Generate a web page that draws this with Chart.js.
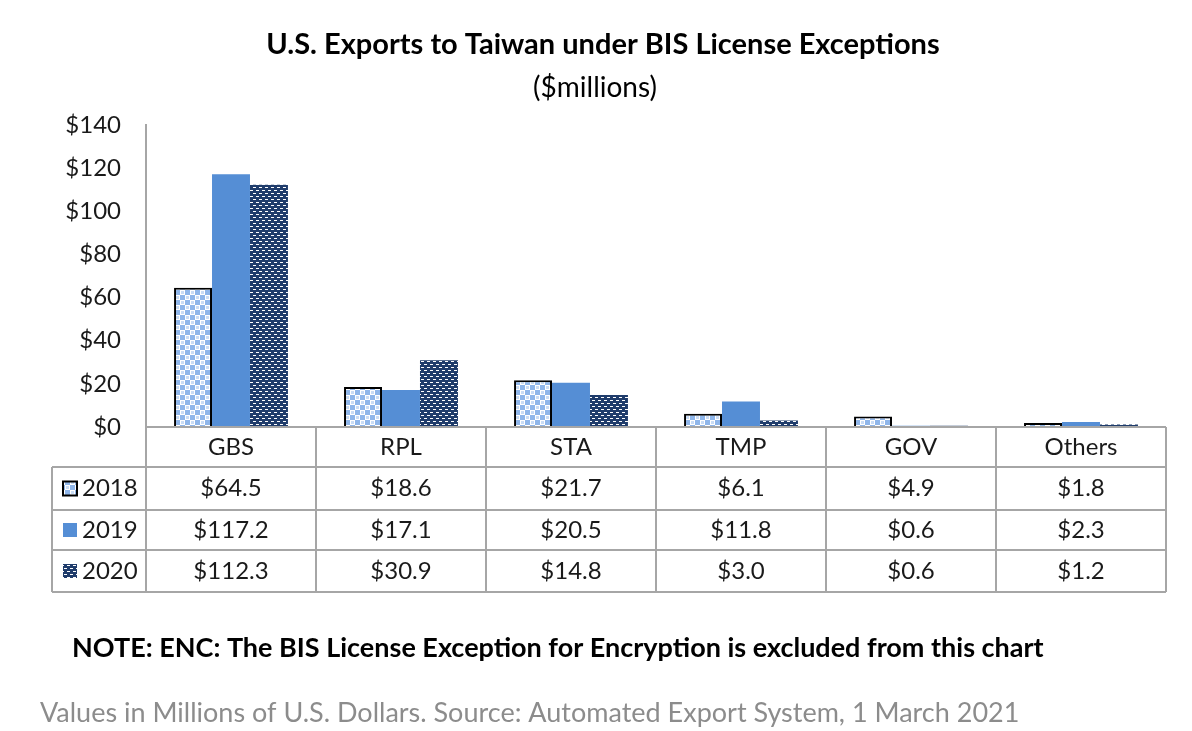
<!DOCTYPE html>
<html>
<head>
<meta charset="utf-8">
<script src="https://cdn.jsdelivr.net/npm/chart.js@4"></script>
<style>
  body { margin: 0; background: #fff; }
</style>
</head>
<body>
<canvas id="bis_chart" width="1192" height="731"></canvas>
<script>

var categories = ["GBS", "RPL", "STA", "TMP", "GOV", "Others"];
var years = ["2018", "2019", "2020"];
var values_2018 = [64.5, 18.6, 21.7, 6.1, 4.9, 1.8];
var values_2019 = [117.2, 17.1, 20.5, 11.8, 0.6, 2.3];
var values_2020 = [112.3, 30.9, 14.8, 3.0, 0.6, 1.2];
var y_ticks = [0, 20, 40, 60, 80, 100, 120, 140];

var FONT = "Lato, 'Open Sans', sans-serif";
var GRID = "#a6a6a6";

// fill patterns like the excel ones
function makePattern(w, h, draw) {
  var c = document.createElement("canvas");
  c.width = w; c.height = h;
  var g = c.getContext("2d");
  draw(g);
  return document.getElementById("bis_chart").getContext("2d").createPattern(c, "repeat");
}

var check_fill = makePattern(10, 10, function (g) {
  g.fillStyle = "#ffffff"; g.fillRect(0, 0, 10, 10);
  g.fillStyle = "#8fb6ea";
  g.fillRect(5, 0, 5, 5);
  g.fillRect(0, 5, 5, 5);
  g.fillStyle = "#c9dcf5";
  g.fillRect(1, 1, 3, 3);
  g.fillRect(6, 6, 3, 3);
});

var solid_fill = "#558ed5";

var dash_fill = makePattern(6, 6, function (g) {
  g.fillStyle = "#1f3c6b"; g.fillRect(0, 0, 6, 6);
  g.fillStyle = "#ffffff";
  g.fillRect(1, 1, 3, 1);
  g.fillRect(4, 4, 2, 1);
  g.fillRect(0, 4, 1, 1);
});

var fills = [check_fill, solid_fill, dash_fill];
var table_rows = [values_2018, values_2019, values_2020];

// rows of the data table under the plot
var row_lines = [427, 467, 510, 550, 592];
var key_left = 52;

var tablePlugin = {
  id: "tablePlugin",
  afterDraw: function (chart) {
    var ctx = chart.ctx;
    var xs = chart.scales.x;
    var area = chart.chartArea;
    var half = (area.right - area.left) / categories.length / 2;

    ctx.save();

    // title + subtitle
    ctx.fillStyle = "#000";
    ctx.textAlign = "center";
    ctx.textBaseline = "middle";
    ctx.font = "bold 29px " + FONT;
    ctx.fillText("U.S. Exports to Taiwan under BIS License Exceptions", 603, 45);
    ctx.font = "28px " + FONT;
    ctx.fillText("($millions)", 595, 88);

    // table grid
    ctx.strokeStyle = GRID;
    ctx.lineWidth = 2;
    ctx.beginPath();
    ctx.moveTo(area.left, row_lines[0]); ctx.lineTo(area.right, row_lines[0]);
    for (var r = 1; r < row_lines.length; r++) {
      ctx.moveTo(key_left, row_lines[r]); ctx.lineTo(area.right, row_lines[r]);
    }
    ctx.moveTo(key_left, row_lines[1]); ctx.lineTo(key_left, row_lines[4]);
    for (var i = 0; i <= categories.length; i++) {
      var bx = area.left + i * half * 2;
      ctx.moveTo(bx, row_lines[0]); ctx.lineTo(bx, row_lines[4]);
    }
    ctx.stroke();

    // category labels and values
    ctx.fillStyle = "#1a1a1a";
    ctx.font = "24px " + FONT;
    for (var c = 0; c < categories.length; c++) {
      var cx = xs.getPixelForValue(c);
      ctx.fillText(categories[c], cx, (row_lines[0] + row_lines[1]) / 2);
      for (var k = 0; k < table_rows.length; k++) {
        ctx.fillText("$" + table_rows[k][c].toFixed(1), cx, (row_lines[k + 1] + row_lines[k + 2]) / 2);
      }
    }

    // legend keys
    for (var k = 0; k < years.length; k++) {
      var my = (row_lines[k + 1] + row_lines[k + 2]) / 2;
      ctx.fillStyle = fills[k];
      ctx.fillRect(63, my - 7, 14, 14);
      if (k == 0) {
        ctx.strokeStyle = "#000";
        ctx.lineWidth = 2;
        ctx.strokeRect(63, my - 7, 14, 14);
      }
      ctx.fillStyle = "#1a1a1a";
      ctx.textAlign = "left";
      ctx.fillText(years[k], 82, my);
      ctx.textAlign = "center";
    }

    // footnotes
    ctx.textAlign = "left";
    ctx.fillStyle = "#000";
    ctx.font = "bold 27px " + FONT;
    ctx.fillText("NOTE: ENC: The BIS License Exception for Encryption is excluded from this chart", 72, 648);
    ctx.fillStyle = "#8c8c8c";
    ctx.font = "27px " + FONT;
    ctx.fillText("Values in Millions of U.S. Dollars. Source: Automated Export System, 1 March 2021", 40, 713);

    ctx.restore();
  }
};

var chart_data = {
  labels: categories,
  datasets: [
    {
      label: years[0],
      data: values_2018,
      backgroundColor: check_fill,
      borderColor: "#000",
      borderWidth: 2,
      borderSkipped: "bottom"
    },
    {
      label: years[1],
      data: values_2019,
      backgroundColor: solid_fill,
      borderWidth: 0
    },
    {
      label: years[2],
      data: values_2020,
      backgroundColor: dash_fill,
      borderWidth: 0
    }
  ]
};

var context_bis = document.getElementById("bis_chart").getContext("2d");

var myNewChart = new Chart(context_bis, {
  type: "bar",
  data: chart_data,
  options: {
    responsive: false,
    animation: false,
    layout: { padding: { left: 0, right: 26, top: 125, bottom: 304 } },
    datasets: { bar: { categoryPercentage: 0.67, barPercentage: 1.0 } },
    plugins: {
      legend: { display: false },
      tooltip: { enabled: false }
    },
    scales: {
      x: { display: false },
      y: {
        min: 0,
        max: 140,
        afterBuildTicks: function (scale) {
          scale.ticks = y_ticks.map(function (v) { return { value: v }; });
        },
        afterFit: function (scale) { scale.width = 146; },
        grid: { display: false, drawTicks: false },
        border: { display: true, color: GRID, width: 2 },
        ticks: {
          padding: 25,
          color: "#1a1a1a",
          font: { family: FONT, size: 24 },
          callback: function (v) { return "$" + v; }
        }
      }
    }
  },
  plugins: [tablePlugin]
});
</script>
</body>
</html>
